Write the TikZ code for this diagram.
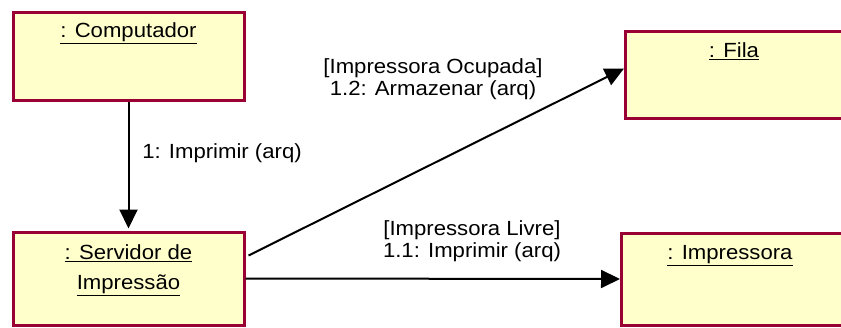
\documentclass[tikz,border=0pt]{standalone}
\usepackage{fontspec}
\newfontfamily\umlfont[FakeStretch=1.08]{Liberation Sans}
\usetikzlibrary{arrows.meta}
\definecolor{objfill}{HTML}{FFFFCC}
\definecolor{objedge}{HTML}{990033}
\begin{document}
\begin{tikzpicture}[x=1pt,y=-1pt,
  every node/.style={font=\umlfont\fontsize{20.5}{22}\selectfont, inner sep=0pt},
  obj/.style={draw=objedge, fill=objfill, line width=3pt, rectangle},
  msg/.style={line width=2pt, -{Triangle[length=19pt,width=18pt]}},
  lbl/.style={align=center}]
\useasboundingbox (0,0) rectangle (841,327);
\clip (0,0) rectangle (841,327);
% boxes
\node[obj, minimum width=231pt, minimum height=88pt] (comp) at (128.5,56) {};
\node[obj, minimum width=231pt, minimum height=93pt] (serv) at (128.5,278.5) {};
\node[obj, minimum width=220pt, minimum height=87pt] (fila) at (735.5,74.5) {};
\node[obj, minimum width=224pt, minimum height=92pt] (impr) at (733.5,279) {};
% object names
\node (compt) at (128.5,33) {\underline{: Computador}};
\node[align=center, font=\umlfont\fontsize{20.5}{30}\selectfont] (servt) at (128.5,270) {\underline{: Servidor de}\\\underline{Impressão}};
\node (filat) at (734,51) {\underline{: Fila}};
\node (imprt) at (730,256) {\underline{: Impressora}};
% messages
\draw[msg] (comp.south) -- ([yshift=2pt]serv.north);
\draw[msg] ([xshift=3pt,yshift=23pt]serv.east) -- ([yshift=6pt]fila.west);
\draw[msg] (serv.east) -- (impr.west);
% labels
\node (l1) at (222,153) {1: Imprimir (arq)};
\node[lbl] (l12) at (433,79) {[Impressora Ocupada]\\1.2: Armazenar (arq)};
\node[lbl] (l11) at (472,241) {[Impressora Livre]\\1.1: Imprimir (arq)};
\end{tikzpicture}
\end{document}
